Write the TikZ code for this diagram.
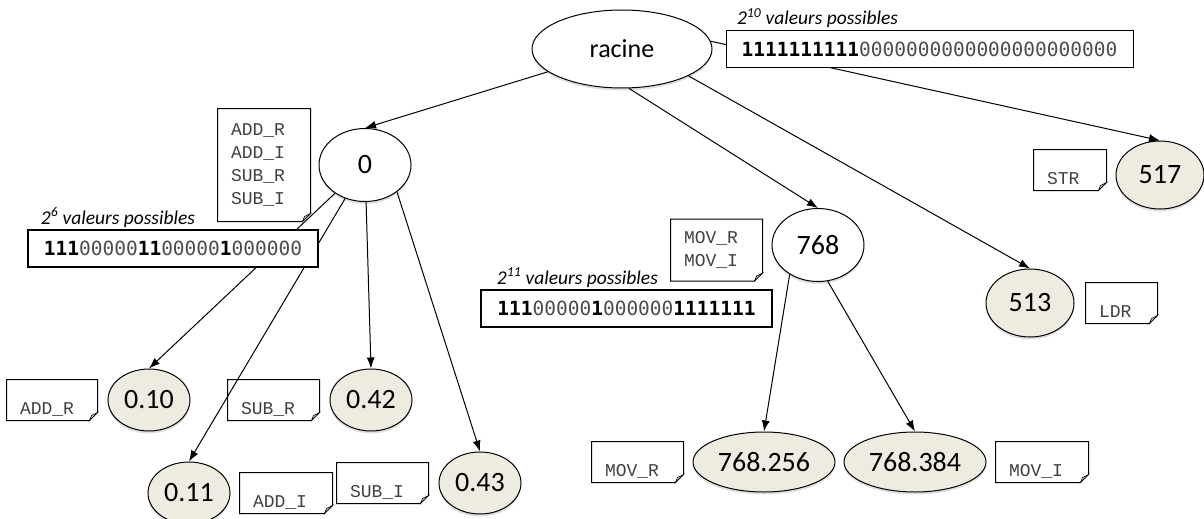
\documentclass[tikz,border=0pt]{standalone}
\usepackage{fontspec}
\setmainfont{Carlito}
\newfontfamily\codefont{Liberation Mono}
\newfontfamily\bitfont{DejaVu Sans Mono}
\usetikzlibrary{shapes.geometric, positioning, arrows.meta, shadows}
\definecolor{fondfeuille}{RGB}{238,236,225}
\newcommand{\un}[1]{\textbf{#1}}
\newcommand{\zr}[1]{\textcolor{black!70}{#1}}
\tikzset{
    >={Latex[length=11pt,width=8pt]},
    node distance=9pt,
    noeud/.style={ellipse, draw, fill=white, inner sep=0pt, line width=1pt,
        minimum width=92pt, minimum height=73pt, font=\fontsize{28}{30}\selectfont,
        drop shadow={shadow xshift=0pt, shadow yshift=-2.5pt, opacity=.25}},
    feuille/.style={noeud, fill=fondfeuille, minimum width=82pt, minimum height=62pt},
    fichebase/.style={inner xsep=13pt, inner ysep=3pt, align=left,
        font=\codefont\fontsize{18}{22.7}\selectfont, text=black!75,
        append after command={\pgfextra{
            \draw[line width=1pt] (\tikzlastnode.north west) -- (\tikzlastnode.north east)
                -- ([yshift=8pt]\tikzlastnode.south east) -- ([xshift=-8pt]\tikzlastnode.south east)
                -- (\tikzlastnode.south west) -- cycle;
            \draw[line width=.6pt, fill=black!25] ([xshift=-8pt]\tikzlastnode.south east)
                -- ([yshift=8pt]\tikzlastnode.south east) -- ([xshift=-6pt,yshift=5pt]\tikzlastnode.south east) -- cycle;
        }}},
    fiche/.style={fichebase, text width=#1, text height=31pt, text depth=3pt},
    liste/.style={fichebase, text width=#1},
    bits/.style={draw, fill=white, line width=1.1pt, inner sep=0pt,
        minimum height=37pt, font=\bitfont\fontsize{19.5}{22}\selectfont},
    titre/.style={anchor=base west, inner sep=0pt, font=\itshape\fontsize{19.5}{22}\selectfont},
}

\begin{document}
\begin{tikzpicture}[x=1pt, y=-1pt, line width=1pt]
\useasboundingbox (0,0) rectangle (1204,519);

% arbre
\node[noeud, minimum width=180pt, minimum height=78pt, font=\fontsize{26}{28}\selectfont] (racine) at (622,49) {racine};
\node[noeud] (n0) at (365,165) {0};
\node[noeud] (n768) at (818,245) {768};

\node[feuille] (n010) at (149,400) {0.10};
\node[feuille] (n042) at (371,400) {0.42};
\node[feuille] (n011) at (189,493) {0.11};
\node[feuille] (n043) at (480,483) {0.43};
\node[feuille, minimum width=142pt, minimum height=60pt] (n768256) at (764,462) {768.256};
\node[feuille, minimum width=142pt, minimum height=60pt] (n768384) at (915,462) {768.384};
\node[feuille, minimum width=88pt, minimum height=68pt] (n513) at (1030,303) {513};
\node[feuille, minimum width=88pt, minimum height=68pt] (n517) at (1160,175) {517};

% fiches
\node[liste=66pt, minimum height=112pt] (fadd) [left=8pt of n0] {ADD\_R\\ADD\_I\\SUB\_R\\SUB\_I};
\node[liste=65pt, minimum height=61pt] (fmov) [left=9pt of n768, yshift=-5pt] {MOV\_R\\MOV\_I};
\node[fiche=64pt] (faddr) [left=10pt of n010] {ADD\_R};
\node[fiche=65pt] (fsubr) [left=10pt of n042] {SUB\_R};
\node[fiche=66pt] (faddi) [right=9pt of n011] {ADD\_I};
\node[fiche=65pt] (fsubi) [left=10pt of n043] {SUB\_I};
\node[fiche=65pt] (fmovr) [left=9pt of n768256] {MOV\_R};
\node[fiche=66pt] (fmovi) [right=9pt of n768384] {MOV\_I};
\node[fiche=46pt] (fstr) [left=9pt of n517, yshift=5pt] {STR};
\node[fiche=45pt] (fldr) [right=11pt of n513] {LDR};

% aretes
\draw[->] (racine) -- (n0.north);
\draw[->] (racine.-80) -- (n768.north);
\draw[->] (racine.-22) -- (n513.north);
\draw[->] (racine.5) -- (n517.north);
\draw[->] (n0) -- (n010.north);
\draw[->] (n0) -- (n011.north);
\draw[->] (n0) -- (n042.north);
\draw[->] (n0.-40) -- (n043.north);
\draw[->] (n768.-134) -- (n768256.north);
\draw[->] (n768.-75) -- (n768384.north);

% masques
\node[bits, minimum width=407pt] (b10) [right=13pt of racine] {\un{1111111111}\zr{0000000000000000000000}};
\node[bits, minimum width=290pt] (b6) at (173,248.5) {\un{111}\zr{00000}\un{11}\zr{00000}\un{1}\zr{000000}};
\node[bits, minimum width=291pt] (b11) at (626.5,308.5) {\un{111}\zr{00000}\un{1}\zr{000000}\un{1111111}};

\node[titre] (t10) at ([xshift=11pt,yshift=5pt]b10.north west) {2\textsuperscript{10} valeurs possibles};
\node[titre] (t6) at ([xshift=13pt,yshift=5pt]b6.north west) {2\textsuperscript{6} valeurs possibles};
\node[titre] (t11) at ([xshift=16pt,yshift=5pt]b11.north west) {2\textsuperscript{11} valeurs possibles};

\end{tikzpicture}
\end{document}
